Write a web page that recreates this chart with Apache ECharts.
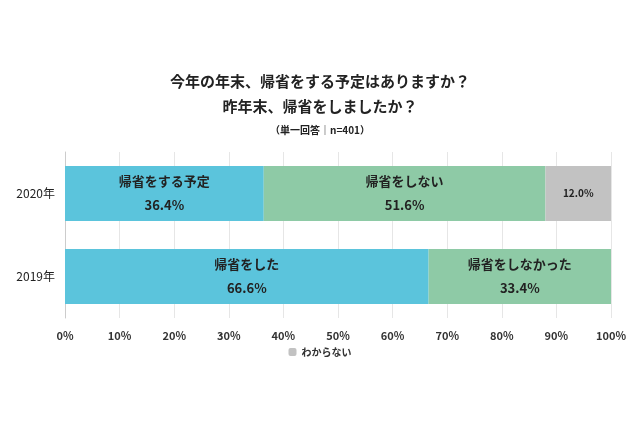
<!DOCTYPE html>
<html><head><meta charset="utf-8">
<script src="https://cdn.jsdelivr.net/npm/echarts@6/dist/echarts.min.js"></script>
<style>body{margin:0;background:#fff}#c{width:640px;height:426px}</style>
</head><body><div id="c"></div>
<script>
var years = ['2019年', '2020年'];
var firstVals = [66.6, 36.4];
var firstNames = ['帰省をした', '帰省をする予定'];
var secondVals = [33.4, 51.6];
var secondNames = ['帰省をしなかった', '帰省をしない'];
var unknownVals = [0, 12.0];
var xTicks = [0, 10, 20, 30, 40, 50, 60, 70, 80, 90, 100];

var font = '"Noto Sans CJK JP", sans-serif';
function seg(vals, names, color, name) {
    return {
        type: 'bar', stack: 'a', name: name, barWidth: '66%',
        itemStyle: {color: color},
        data: vals.map(function (v, i) { return {value: v, nm: names ? names[i] : ''}; }),
        label: {
            show: true, color: '#222', fontFamily: font,
            fontWeight: 'bold', fontSize: names ? 13 : 10, lineHeight: 24,
            formatter: function (p) {
                if (!p.value) return '';
                return names ? p.data.nm + '\n' + p.value.toFixed(1) + '%' : p.value.toFixed(1) + '%';
            }
        }
    };
}
var chart = echarts.init(document.getElementById('c'));
chart.setOption({
    animation: false,
    textStyle: {fontFamily: font},
    title: {
        text: '今年の年末、帰省をする予定はありますか？\n昨年末、帰省をしましたか？',
        subtext: '（単一回答｜n=401）',
        left: 'center', top: 64, itemGap: 6,
        textStyle: {fontSize: 15, fontWeight: 'bold', color: '#222', lineHeight: 25, fontFamily: font},
        subtextStyle: {fontSize: 10, color: '#222', fontWeight: 'bold', fontFamily: font}
    },
    legend: {
        data: ['わからない'], bottom: 64, left: 'center', itemWidth: 8, itemHeight: 8,
        textStyle: {fontSize: 10, color: '#333', fontWeight: 'bold'}
    },
    grid: {left: 65, right: 29, top: 152, bottom: 108},
    xAxis: {
        type: 'value', min: 0, max: 100, interval: 10,
        axisLabel: {formatter: function (v) { return xTicks.indexOf(v) >= 0 ? v + '%' : ''; }, color: '#333', fontSize: 11, fontWeight: 'bold', margin: 12},
        splitLine: {lineStyle: {color: '#e6e6e6'}},
        axisLine: {show: false}, axisTick: {show: false}
    },
    yAxis: {
        type: 'category', data: years,
        axisLabel: {color: '#222', fontSize: 12, margin: 10},
        axisLine: {lineStyle: {color: '#ccc'}}, axisTick: {show: false}
    },
    series: [
        seg(firstVals, firstNames, '#5bc4dc', 'first'),
        seg(secondVals, secondNames, '#8ecaa6', 'second'),
        seg(unknownVals, null, '#c2c2c2', 'わからない')
    ]
});
</script></body></html>
